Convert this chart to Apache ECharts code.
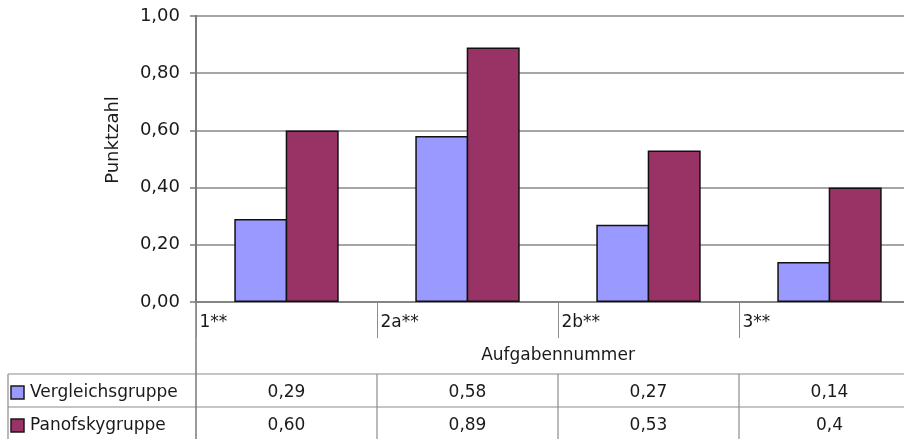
<!DOCTYPE html>
<html>
<head>
<meta charset="utf-8">
<script src="https://cdn.jsdelivr.net/npm/echarts@6/dist/echarts.min.js"></script>
<style>
  html, body { margin: 0; padding: 0; background: #fff; }
  #chart { width: 904px; height: 439px; }
</style>
</head>
<body>
<div id="chart"></div>
<script>
var categories = ['1**', '2a**', '2b**', '3**'];
var seriesNames = ['Vergleichsgruppe', 'Panofskygruppe'];
var vergleichValues = [0.29, 0.58, 0.27, 0.14];
var panofskyValues = [0.60, 0.89, 0.53, 0.40];
// texts as printed in the data table
var vergleichText = ['0,29', '0,58', '0,27', '0,14'];
var panofskyText = ['0,60', '0,89', '0,53', '0,4'];

var colors = ['#9999ff', '#993366'];
var font = 'DejaVu Sans';
var textColor = '#1a1a1a';
var lineGray = '#8c8c8c';

var chart = echarts.init(document.getElementById('chart'), null, { renderer: 'canvas' });

function barSeries(name, data, color) {
  return {
    name: name,
    type: 'bar',
    data: data,
    barWidth: 53,
    barGap: '-3%',
    silent: true,
    itemStyle: { color: color, borderColor: '#111', borderWidth: 1.5 }
  };
}

var option = {
  animation: false,
  backgroundColor: '#fff',
  // plot runs past the right edge of the picture, as in the original
  grid: { left: 196, top: 16, width: 724, height: 286, outerBoundsMode: 'none', containLabel: false },
  xAxis: {
    type: 'category',
    data: categories,
    name: 'Aufgabennummer',
    nameLocation: 'middle',
    nameGap: 45,
    nameTextStyle: { fontFamily: font, fontSize: 17, color: textColor },
    axisLine: { lineStyle: { color: '#7a7a7a', width: 1.5 } },
    axisTick: { show: true, interval: 0, length: 36, lineStyle: { color: lineGray, width: 1 } },
    axisLabel: {
      interval: 0,
      margin: 12,
      align: 'right',
      formatter: function (v) { return '{a|' + v + '}'; },
      rich: { a: { width: 87, align: 'left', fontFamily: font, fontSize: 17, color: textColor } }
    },
    splitLine: { show: false }
  },
  yAxis: {
    type: 'value',
    min: 0,
    max: 1,
    interval: 0.2,
    axisLine: { show: true, lineStyle: { color: '#7a7a7a', width: 2 } },
    axisTick: { show: true, length: 6, lineStyle: { color: '#7a7a7a', width: 1.5 } },
    axisLabel: {
      margin: 16,
      fontFamily: font,
      fontSize: 18,
      color: textColor,
      formatter: function (v) { return v.toFixed(2).replace('.', ','); }
    },
    splitLine: { lineStyle: { color: '#a6a6a6', width: 2 } }
  },
  series: [
    barSeries(seriesNames[0], vergleichValues, colors[0]),
    barSeries(seriesNames[1], panofskyValues, colors[1])
  ]
};
chart.setOption(option);

// data table below the axis, placed with the category scale
var centers = categories.map(function (c) { return chart.convertToPixel({ xAxisIndex: 0 }, c); });
var half = (centers[1] - centers[0]) / 2;
var tableTop = 374, rowH = 33, tableBottom = 440;
var rowTexts = [vergleichText, panofskyText];
var graphic = [];

function hline(y, x1, x2) {
  graphic.push({ type: 'line', shape: { x1: x1, y1: y, x2: x2, y2: y }, style: { stroke: lineGray, lineWidth: 1.2 }, silent: true });
}
function vline(x, y1, y2, color, w) {
  graphic.push({ type: 'line', shape: { x1: x, y1: y1, x2: x, y2: y2 }, style: { stroke: color || lineGray, lineWidth: w || 1.2 }, silent: true });
}

hline(tableTop, 8, 920);
hline(tableTop + rowH, 8, 920);
vline(8, tableTop, tableBottom);
vline(centers[0] - half, 302, tableBottom, '#7a7a7a', 1.5);
centers.forEach(function (c, i) {
  if (i > 0) vline(c - half, tableTop, tableBottom);
});

seriesNames.forEach(function (name, r) {
  var cy = tableTop + rowH * r + rowH / 2 + 2;
  graphic.push({
    type: 'rect', shape: { x: 11, y: cy - 6.5, width: 13, height: 13 },
    style: { fill: colors[r], stroke: '#1a1a1a', lineWidth: 1.5 }, silent: true
  });
  graphic.push({
    type: 'text', x: 30, y: cy,
    style: { text: name, fontFamily: font, fontSize: 17, fill: textColor, textAlign: 'left', textVerticalAlign: 'middle' },
    silent: true
  });
  rowTexts[r].forEach(function (t, i) {
    graphic.push({
      type: 'text', x: centers[i], y: cy,
      style: { text: t, fontFamily: font, fontSize: 17, fill: textColor, textAlign: 'center', textVerticalAlign: 'middle' },
      silent: true
    });
  });
});

graphic.push({
  type: 'text', x: 113, y: 140, rotation: Math.PI / 2,
  style: { text: 'Punktzahl', fontFamily: font, fontSize: 18, fill: textColor, textAlign: 'center', textVerticalAlign: 'middle' },
  silent: true
});

chart.setOption({ graphic: graphic });
</script>
</body>
</html>
